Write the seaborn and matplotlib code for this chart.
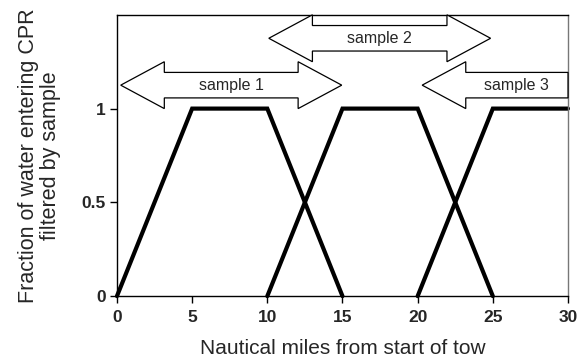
import matplotlib
matplotlib.use("Agg")
import matplotlib.pyplot as plt
from matplotlib.patches import Polygon
import seaborn as sns
import pandas as pd

# Data
s1_x = [0, 5, 10, 15]
s1_y = [0, 1, 1, 0]
s2_x = [10, 15, 20, 25]
s2_y = [0, 1, 1, 0]
s3_x = [20, 25, 30]
s3_y = [0, 1, 1]
series = [("sample 1", s1_x, s1_y), ("sample 2", s2_x, s2_y), ("sample 3", s3_x, s3_y)]

# Arrow annotations: label, left, right, y-centre, double-headed
arrow_labels = ["sample 1", "sample 2", "sample 3"]
arrow_left = [0.25, 10.1, 20.3]
arrow_right = [14.95, 24.85, 30.0]
arrow_y = [1.125, 1.375, 1.125]
arrow_double = [True, True, False]

x_ticks = [0, 5, 10, 15, 20, 25, 30]
y_ticks = [0, 0.5, 1]
y_tick_labels = ["0", "0.5", "1"]

sns.set_theme(style="ticks")
plt.rcParams["font.family"] = ["Liberation Sans", "DejaVu Sans"]

fig = plt.figure(figsize=(5.79, 3.62), dpi=100)
ax = fig.add_axes([0.202, 0.182, 0.779, 0.777])

for name, xs, ys in series:
    df = pd.DataFrame({"x": xs, "y": ys})
    sns.lineplot(data=df, x="x", y="y", sort=False, color="black", lw=3,
                 ax=ax, clip_on=False, solid_joinstyle="miter")

head_len = 2.9
body_half = 0.068
head_half = 0.125
for lab, l, r, yc, dbl in zip(arrow_labels, arrow_left, arrow_right, arrow_y, arrow_double):
    pts = []
    pts += [(l, yc), (l + head_len, yc + head_half), (l + head_len, yc + body_half)]
    if dbl:
        pts += [(r - head_len, yc + body_half), (r - head_len, yc + head_half), (r, yc),
                (r - head_len, yc - head_half), (r - head_len, yc - body_half)]
    else:
        pts += [(r, yc + body_half), (r, yc - body_half)]
    pts += [(l + head_len, yc - body_half), (l + head_len, yc - head_half)]
    ax.add_patch(Polygon(pts, closed=True, facecolor="white", edgecolor="black",
                         lw=0.9, zorder=3, clip_on=False))
    cx = (l + r) / 2 if dbl else (l + head_len + r) / 2
    ax.text(cx, yc, lab, ha="center", va="center", fontsize=11.5, zorder=4)

ax.set_xlim(0, 30)
ax.set_ylim(0, 1.5)
ax.set_xticks(x_ticks)
ax.set_xticklabels([str(t) for t in x_ticks], fontweight="bold", fontsize=12.5)
ax.set_yticks(y_ticks)
ax.set_yticklabels(y_tick_labels, fontweight="bold", fontsize=12.5)
ax.tick_params(axis="y", direction="out", length=5, width=1, color="black", pad=3)
ax.tick_params(axis="x", direction="out", length=5, width=1, color="black", pad=5)
ax.set_xlabel("Nautical miles from start of tow", fontsize=15, labelpad=10)
ax.set_ylabel("Fraction of water entering CPR\nfiltered by sample", fontsize=15.5,
              labelpad=15, linespacing=1.05)
for sp in ax.spines.values():
    sp.set_color("black")
    sp.set_linewidth(1)
ax.spines["right"].set_color("#777777")

fig.savefig("out.png", dpi=100)
